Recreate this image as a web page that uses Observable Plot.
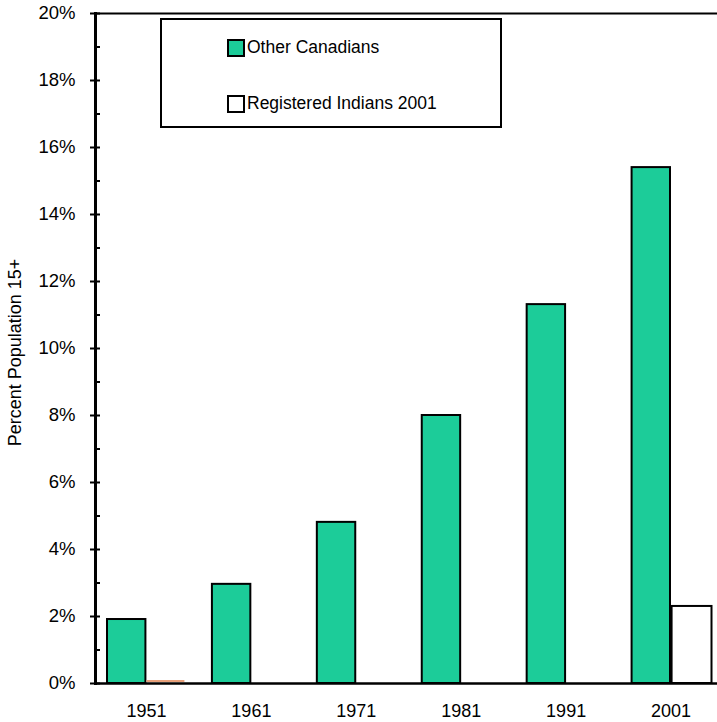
<!DOCTYPE html>
<html>
<head>
<meta charset="utf-8">
<script src="https://cdn.jsdelivr.net/npm/d3@7"></script>
<script src="https://cdn.jsdelivr.net/npm/@observablehq/plot@0.6"></script>
<style>
  body { margin: 0; background: #fff; font-family: "Liberation Sans", Arial, sans-serif; }
  #wrap { position: relative; width: 717px; height: 722px; }
  .legend { position: absolute; left: 160px; top: 18px; width: 338px; height: 106px; border: 2px solid #000; background: #fff; }
  .item { position: absolute; left: 65px; display: flex; align-items: center; font-size: 17.5px; color: #000; white-space: nowrap; }
  .sw { width: 14px; height: 14px; border: 2px solid #000; margin-right: 2px; box-sizing: content-box; }
</style>
</head>
<body>
<div id="wrap"></div>
<script>
// Share of the population aged 15+ with a university degree, by census year
const years = ["1951", "1961", "1971", "1981", "1991", "2001"];
const otherCanadians = [1.91, 2.96, 4.81, 8.0, 11.31, 15.4];
const registeredIndians = [0, null, null, null, null, 2.3];

const yMajorTicks = [0, 2, 4, 6, 8, 10, 12, 14, 16, 18, 20];
const yMinorTicks = [1, 3, 5, 7, 9, 11, 13, 15, 17, 19];

const seriesNames = ["Other Canadians", "Registered Indians 2001"];
const seriesColors = ["#1ccc99", "#ffffff"];
const zeroLineColor = "#e8a07a";
const yLabel = "Percent Population 15+";

const otherRows = years.map((year, i) => ({year, value: otherCanadians[i]}));
const registeredRows = years
  .map((year, i) => ({year, value: registeredIndians[i]}))
  .filter(d => d.value != null);

const font = "Liberation Sans, Arial, sans-serif";

const chart = Plot.plot({
  width: 717,
  height: 722,
  marginLeft: 95,
  marginRight: 0,
  marginTop: 13,
  marginBottom: 39,
  style: {fontFamily: font, fontSize: "18px", background: "#fff", color: "#000"},
  x: {type: "band", domain: years, padding: 0, range: [93.5, 723], round: false},
  y: {domain: [0, 20]},
  marks: [
    Plot.barY(otherRows, {
      x: "year", y: "value",
      fill: seriesColors[0], stroke: "#000", strokeWidth: 2,
      insetLeft: 13.5, insetRight: 53
    }),
    Plot.barY(registeredRows.filter(d => d.value > 0), {
      x: "year", y: "value",
      fill: seriesColors[1], stroke: "#000", strokeWidth: 2,
      insetLeft: 53.5, insetRight: 11.5
    }),
    // zero-valued registered share drawn as a flat outline on the baseline
    Plot.tickY(registeredRows.filter(d => d.value === 0), {
      x: "year", y: "value",
      stroke: zeroLineColor, strokeWidth: 2,
      insetLeft: 53, insetRight: 14, dy: -2.5
    }),
    Plot.frame({anchor: "top", strokeWidth: 2}),
    Plot.frame({anchor: "bottom", strokeWidth: 2.5}),
    Plot.frame({anchor: "left", strokeWidth: 3}),
    Plot.axisY({
      ticks: yMajorTicks, tickSize: 10, dx: 5, tickPadding: 15,
      strokeWidth: 2, fontSize: 18.5,
      tickFormat: d => d + "%", label: null
    }),
    Plot.axisY({
      ticks: yMinorTicks, tickSize: 5, dx: 5, strokeWidth: 2,
      fill: "none", label: null
    }),
    Plot.axisX({tickSize: 0, tickPadding: 21, fontSize: 18, label: null}),
    Plot.text([yLabel], {
      text: d => d, frameAnchor: "left", textAnchor: "middle",
      rotate: -90, dx: -80.5, dy: 4, fontSize: 18, fill: "#000"
    })
  ]
});

const wrap = document.getElementById("wrap");
wrap.appendChild(chart);

// Legend box laid over the upper part of the plot area
const legend = document.createElement("div");
legend.className = "legend";
const itemTops = [17, 73];
seriesNames.forEach((name, i) => {
  const item = document.createElement("div");
  item.className = "item";
  item.style.top = itemTops[i] + "px";
  const sw = document.createElement("span");
  sw.className = "sw";
  sw.style.background = seriesColors[i];
  const label = document.createElement("span");
  label.textContent = name;
  item.appendChild(sw);
  item.appendChild(label);
  legend.appendChild(item);
});
wrap.appendChild(legend);
</script>
</body>
</html>
